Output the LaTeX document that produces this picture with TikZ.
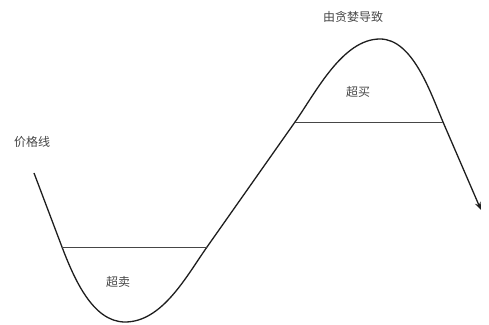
\documentclass[tikz,border=0pt]{standalone}
\usepackage{fontspec}
\newfontfamily\cjk{Noto Sans CJK SC}
\usetikzlibrary{arrows.meta}
\definecolor{C1}{RGB}{30,30,30}
\definecolor{C2}{RGB}{70,70,70}

\begin{document}
\begin{tikzpicture}[
  x=1pt, y=1pt,
  curve/.style = {-{Stealth[length=8pt,width=6pt]}, line width=1.3pt, C1},
  level/.style = {line width=0.8pt, C2},
  lbl/.style = {font=\cjk\fontsize{12}{13}\selectfont, text=C2, inner sep=1pt}
]
\useasboundingbox (0,0) rectangle (489,324);

%% ---------- Points on the price line ----------
\coordinate (start)  at (34,151);
\coordinate (lowL)   at (62,77);
\coordinate (trough) at (125,2);
\coordinate (lowR)   at (207,77);
\coordinate (upL)    at (295,202);
\coordinate (peak)   at (380,285);
\coordinate (upR)    at (443,202);
\coordinate (stop)   at (481,114);

%% ---------- Price line ----------
\draw[curve] (start) -- (lowL)
  to[out=-69,in=180,looseness=0.85] (trough)
  to[out=0,in=235,looseness=0.85] (lowR)
  -- (upL)
  to[out=55,in=180,looseness=0.8] (peak)
  to[out=0,in=113,looseness=0.8] (upR)
  -- (stop);

%% ---------- Levels ----------
\draw[level] (lowL) -- (lowR);
\draw[level] (upL) -- (upR);

%% ---------- Labels ----------
\node[lbl] (price) at (32,182) {价格线};
\node[lbl] (greed) at (353,307) {由贪婪导致};
\node[lbl] (over)  at (358,232) {超买};
\node[lbl] (under) at (118,42)  {超卖};

\end{tikzpicture}
\end{document}
